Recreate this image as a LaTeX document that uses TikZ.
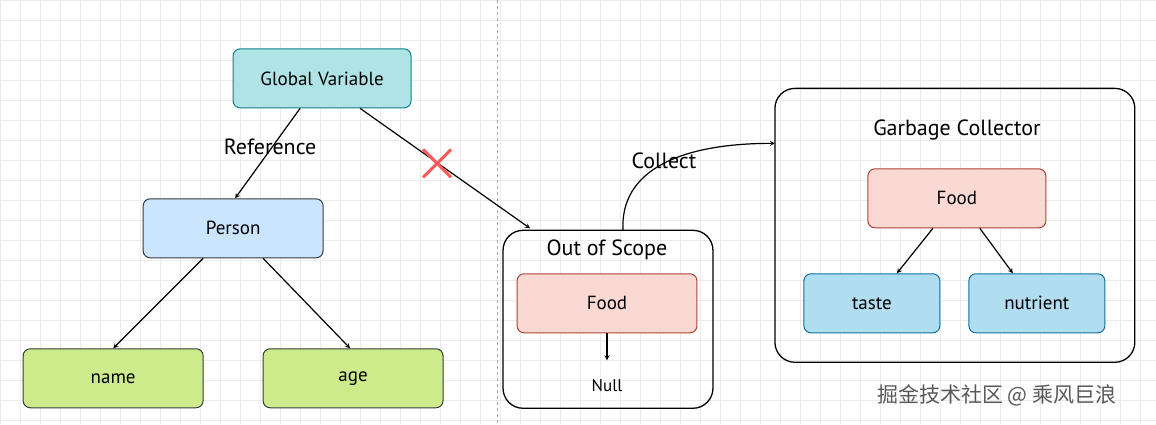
\documentclass[tikz,border=0pt]{standalone}
\usepackage{fontspec}
\setmainfont{PT Sans}
\newfontfamily\cjk{Noto Sans CJK SC}
\usetikzlibrary{positioning}
\definecolor{gvfill}{HTML}{B0E3E6}\definecolor{gvline}{HTML}{0E8088}
\definecolor{pfill}{HTML}{CCE5FF}\definecolor{pline}{HTML}{36393D}
\definecolor{gfill}{HTML}{CDEB8B}\definecolor{gline}{HTML}{36393D}
\definecolor{ffill}{HTML}{FAD9D5}\definecolor{fline}{HTML}{AE4132}
\definecolor{bfill}{HTML}{B1DDF0}\definecolor{bline}{HTML}{10739E}
\tikzset{
  box/.style={draw, line width=1pt, rounded corners=7pt, minimum height=59pt, font=\fontsize{19}{22}\selectfont},
  wide/.style={box, minimum width=180pt},
  narrow/.style={box, minimum width=136pt},
  holder/.style={draw, rounded corners=20pt, line width=1.3pt},
  link/.style={-stealth, line width=1.2pt},
  lbl/.style={font=\fontsize{22}{26}\selectfont}
}
\begin{document}
\begin{tikzpicture}[x=1pt,y=-1pt]
  \fill[white] (0,0) rectangle (1156,424);
  \draw[black!8, step=20pt] (0,0) grid (1156,424);
  \draw[black!35, dashed, line width=0.8pt] (497,0) -- (497,424);

  % containers
  \draw[holder] (503,230) rectangle (713,408);
  \draw[holder] (775,88) rectangle (1135,362);
  \node[lbl] (scope) at (607,250) {Out of Scope};
  \node[lbl] (gc) at (957,130) {Garbage Collector};

  % nodes
  \node[box, minimum width=178pt, fill=gvfill, draw=gvline] (global) at (322,78) {Global Variable};
  \node[wide, fill=pfill, draw=pline] (person) at (233,228) {Person};
  \node[wide, fill=gfill, draw=gline] (name) at (113,378) {name};
  \node[wide, fill=gfill, draw=gline] (age) at (353,378) {age};
  \node[wide, fill=ffill, draw=fline] (food) at (607,303) {Food};
  \node[font=\fontsize{17}{20}\selectfont] (null) at (607,385) {Null};
  \node[box, minimum width=178pt, fill=ffill, draw=fline] (food2) at (957,198) {Food};
  \node[narrow, fill=bfill, draw=bline] (taste) at (872,303) {taste};
  \node[narrow, fill=bfill, draw=bline] (nutrient) at (1037,303) {nutrient};

  % connectors
  \coordinate (in) at (530,228);
  \coordinate (nul) at (607,360);
  \coordinate (up) at (623,230);
  \coordinate (gcin) at (775,143);
  \draw[link] ([xshift=-22pt]global.south) -- ([xshift=2pt]person.north);
  \draw[link] ([xshift=38pt]global.south) -- (in);
  \draw[link] ([xshift=-30pt]person.south) -- ([xshift=0pt]name.north);
  \draw[link] ([xshift=30pt]person.south) -- ([xshift=-3pt]age.north);
  \draw[link] (food.south) -- (nul);
  \draw[link] (up) .. controls (620,170) and (680,143) .. (gcin);
  \draw[link] ([xshift=-24pt]food2.south) -- ([xshift=25pt]taste.north);
  \draw[link] ([xshift=23pt]food2.south) -- ([xshift=-24pt]nutrient.north);

  \node[lbl] (ref) at (270,146) {Reference};
  \node[lbl] (collect) at (664,160) {Collect};
  \draw[red!65, line width=3pt] (423,149) -- (451,177) (451,149) -- (423,177);
  \node[font=\cjk\fontsize{21}{24}\selectfont, text=black!65] (mark) at (997,395) {掘金技术社区 @ 乘风巨浪};
\end{tikzpicture}
\end{document}
